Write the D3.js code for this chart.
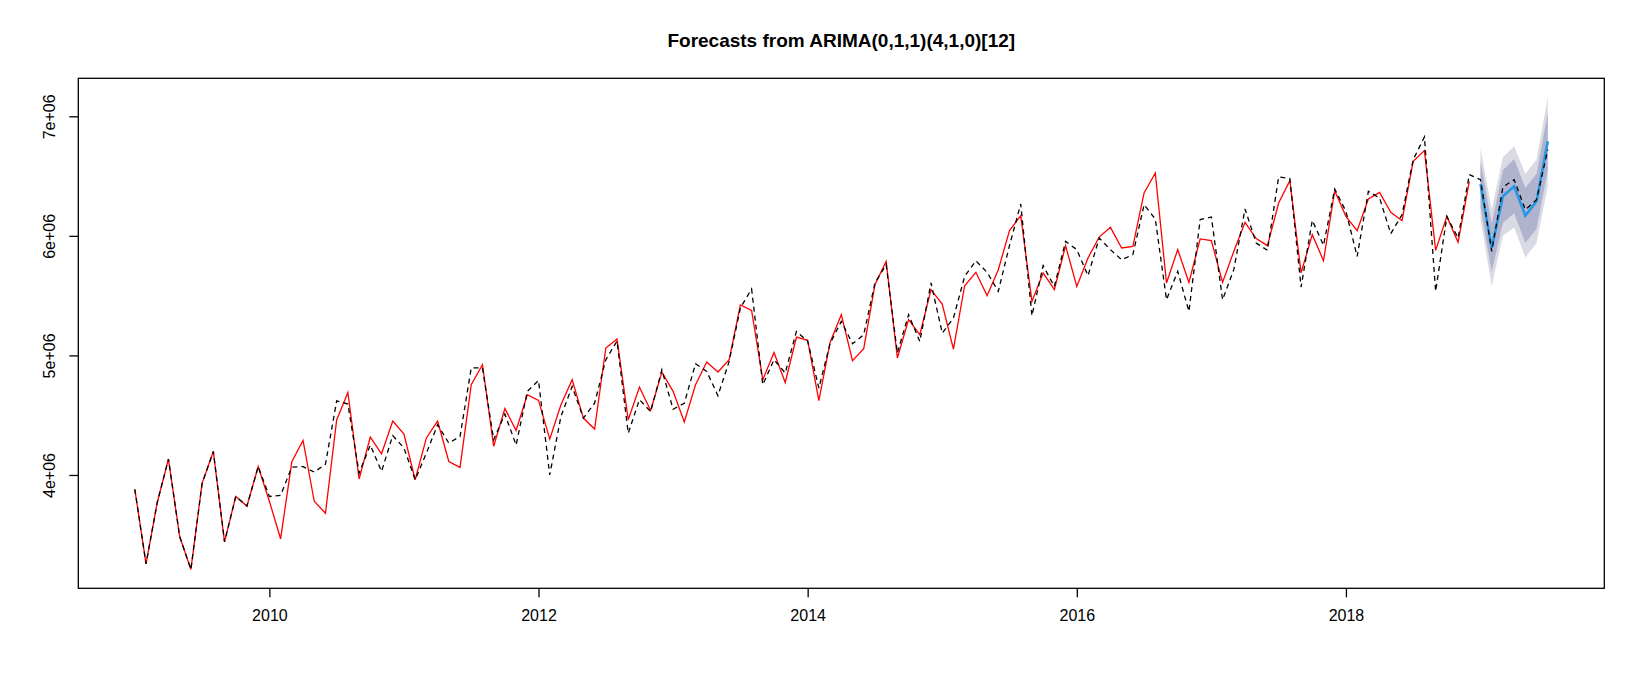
<!DOCTYPE html>
<meta charset="utf-8">
<style>
body { margin: 0; background: #fff; }
svg text { font-family: "Liberation Sans", Arial, sans-serif; fill: #000; }
.title { font-size: 19px; font-weight: bold; }
.tick-label { font-size: 16px; }
</style>
<svg id="chart" width="1645" height="686"></svg>
<script src="https://cdn.jsdelivr.net/npm/d3@7/dist/d3.min.js"></script>
<script>
// monthly series, Jan 2009 .. Dec 2018 (values in millions)
var fitted = [3.88,3.257,3.77,4.133,3.485,3.21,3.93,4.197,3.44,3.82,3.74,4.07,
  3.78,3.466,4.11,4.289,3.78,3.68,4.46,4.69,3.966,4.317,4.177,4.451,
  4.342,3.96,4.31,4.451,4.113,4.063,4.755,4.922,4.24,4.556,4.372,4.671,
  4.624,4.30,4.587,4.797,4.476,4.384,5.062,5.137,4.462,4.735,4.54,4.861,
  4.699,4.443,4.755,4.945,4.861,4.964,5.422,5.377,4.797,5.025,4.774,5.154,
  5.126,4.621,5.109,5.341,4.956,5.056,5.592,5.787,4.978,5.299,5.173,5.55,
  5.43,5.053,5.583,5.695,5.5,5.717,6.045,6.169,5.452,5.69,5.55,5.918,
  5.577,5.815,5.99,6.071,5.899,5.912,6.359,6.526,5.606,5.885,5.611,5.974,
  5.96,5.611,5.87,6.113,5.978,5.918,6.275,6.462,5.69,6.01,5.792,6.378,
  6.163,6.044,6.309,6.364,6.197,6.127,6.623,6.713,5.879,6.163,5.946,6.456];

// actual series, Jan 2009 .. Jul 2019 (dashed)
var actual = [3.88,3.257,3.77,4.133,3.485,3.21,3.93,4.197,3.44,3.82,3.74,4.07,
  3.82,3.83,4.066,4.07,4.024,4.09,4.62,4.593,4.016,4.25,4.03,4.33,
  4.225,3.96,4.183,4.42,4.267,4.322,4.895,4.895,4.295,4.51,4.25,4.699,
  4.79,4.0,4.49,4.74,4.476,4.6,4.964,5.12,4.35,4.63,4.53,4.88,
  4.55,4.6,4.93,4.866,4.663,4.95,5.397,5.556,4.755,4.964,4.853,5.201,
  5.12,4.727,5.1,5.285,5.098,5.173,5.606,5.759,5.02,5.341,5.117,5.606,
  5.187,5.313,5.661,5.792,5.695,5.536,5.92,6.267,5.332,5.751,5.577,5.954,
  5.885,5.667,5.982,5.885,5.8,5.843,6.261,6.141,5.466,5.703,5.368,6.136,
  6.158,5.466,5.717,6.225,5.94,5.879,6.493,6.479,5.572,6.13,5.921,6.392,
  6.205,5.828,6.372,6.317,6.018,6.177,6.638,6.828,5.536,6.163,5.982,6.512,
  6.47,5.87,6.409,6.47,6.219,6.303,6.721];

// forecast Jan .. Jul 2019 with 80% / 95% intervals
var fcMean = [6.434,5.899,6.331,6.414,6.169,6.289,6.791];
var lo80 = [6.24,5.70,6.11,6.19,5.94,6.06,6.55];
var hi80 = [6.63,6.10,6.55,6.64,6.40,6.52,7.03];
var lo95 = [6.14,5.58,6.00,6.07,5.82,5.94,6.42];
var hi95 = [6.73,6.22,6.66,6.75,6.52,6.64,7.16];

var xTicks = [2010, 2012, 2014, 2016, 2018];
var yTicks = [4e6, 5e6, 6e6, 7e6];
var startYear = 2009;

var svg = d3.select("#chart"),
    width = +svg.attr("width"),
    height = +svg.attr("height"),
    margin = {top: 78.3, right: 40.7, bottom: 97.7, left: 78.3};

function toPoints(vals, offset) {
  return vals.map(function(v, i) { return {t: startYear + (i + offset) / 12, v: v * 1e6}; });
}

var fitPts = toPoints(fitted, 0),
    actPts = toPoints(actual, 0),
    fcPts = toPoints(fcMean, 120);
var bandPts = fcMean.map(function(d, i) {
  return {t: startYear + (i + 120) / 12, lo80: lo80[i] * 1e6, hi80: hi80[i] * 1e6, lo95: lo95[i] * 1e6, hi95: hi95[i] * 1e6};
});

// R style axis limits: data range padded 4% each side
var tExt = [startYear, startYear + 126 / 12];
var allV = [].concat(fitted, actual, lo95, hi95).map(function(v) { return v * 1e6; });
var vExt = d3.extent(allV);
var tPad = (tExt[1] - tExt[0]) * 0.04, vPad = (vExt[1] - vExt[0]) * 0.04;

var x = d3.scaleLinear()
    .domain([tExt[0] - tPad, tExt[1] + tPad])
    .range([margin.left, width - margin.right]);
var y = d3.scaleLinear()
    .domain([vExt[0] - vPad, vExt[1] + vPad])
    .range([height - margin.bottom, margin.top]);

// interval bands
var area95 = d3.area().x(function(d) { return x(d.t); }).y0(function(d) { return y(d.lo95); }).y1(function(d) { return y(d.hi95); });
var area80 = d3.area().x(function(d) { return x(d.t); }).y0(function(d) { return y(d.lo80); }).y1(function(d) { return y(d.hi80); });
svg.append("path").datum(bandPts).attr("d", area95).attr("fill", "#d9dae4");
svg.append("path").datum(bandPts).attr("d", area80).attr("fill", "#b0b3cd");

var line = d3.line().x(function(d) { return x(d.t); }).y(function(d) { return y(d.v); });

svg.append("path").datum(fcPts).attr("d", line)
    .attr("fill", "none").attr("stroke", "#2297e6").attr("stroke-width", 2.6);

svg.append("path").datum(fitPts).attr("d", line)
    .attr("fill", "none").attr("stroke", "#ff0000").attr("stroke-width", 1.3);

svg.append("path").datum(actPts).attr("d", line)
    .attr("fill", "none").attr("stroke", "#000").attr("stroke-width", 1.3)
    .attr("stroke-dasharray", "5,4");

// plot box
svg.append("rect")
    .attr("x", margin.left).attr("y", margin.top)
    .attr("width", width - margin.left - margin.right)
    .attr("height", height - margin.top - margin.bottom)
    .attr("fill", "none").attr("stroke", "#000").attr("stroke-width", 1.3);

// axes
var xAxis = d3.axisBottom(x).tickValues(xTicks).tickSize(9).tickPadding(12).tickFormat(d3.format("d"));
var gx = svg.append("g").attr("transform", "translate(0," + (height - margin.bottom) + ")").call(xAxis);
gx.select(".domain").remove();
gx.selectAll("line").attr("stroke", "#000").attr("stroke-width", 1.3);
gx.selectAll("text").attr("class", "tick-label").attr("font-family", null).attr("font-size", null);

var yAxis = d3.axisLeft(y).tickValues(yTicks).tickSize(9)
    .tickFormat(function(d) { return (d / 1e6) + "e+06"; });
var gy = svg.append("g").attr("transform", "translate(" + margin.left + ",0)").call(yAxis);
gy.select(".domain").remove();
gy.selectAll("line").attr("stroke", "#000").attr("stroke-width", 1.3);
gy.selectAll("text")
    .attr("class", "tick-label").attr("font-family", null).attr("font-size", null)
    .attr("x", null).attr("dy", null)
    .attr("text-anchor", "middle")
    .attr("transform", "translate(-23,0) rotate(-90)");

// title
svg.append("text")
    .attr("class", "title")
    .attr("x", (margin.left + width - margin.right) / 2)
    .attr("y", 46.5)
    .attr("text-anchor", "middle")
    .text("Forecasts from ARIMA(0,1,1)(4,1,0)[12]");
</script>
